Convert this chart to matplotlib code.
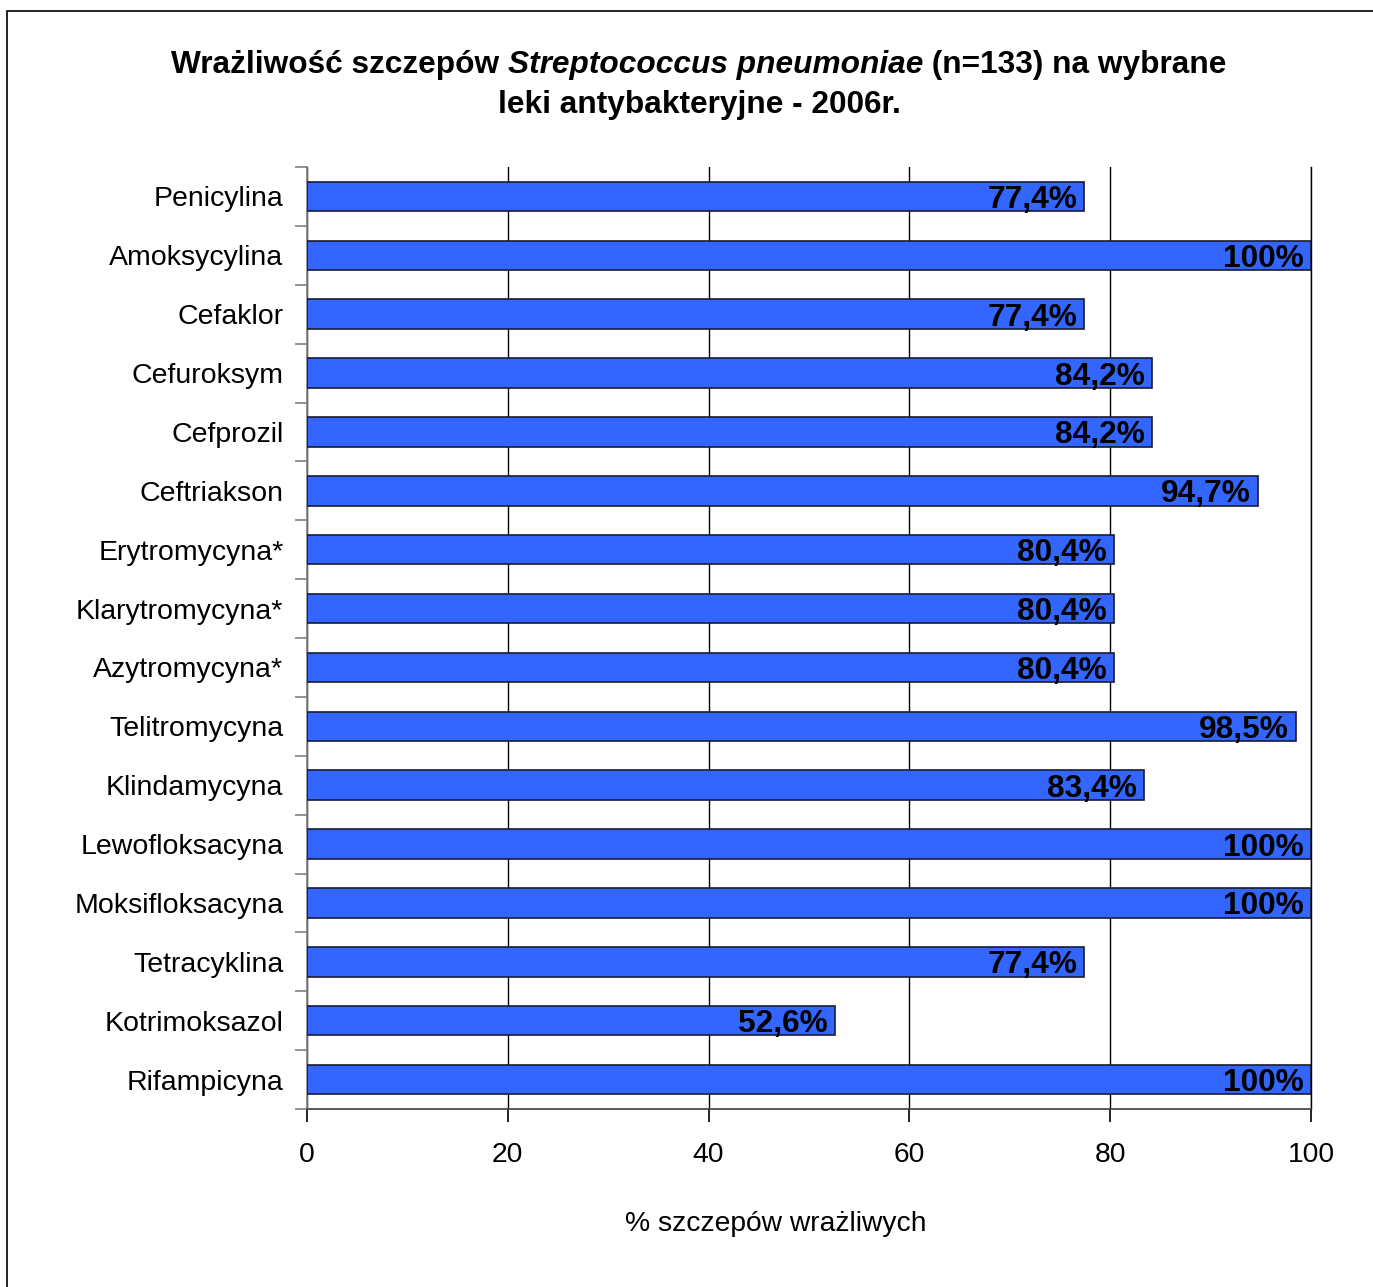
import matplotlib
matplotlib.use("Agg")
import matplotlib.pyplot as plt
from matplotlib.patches import Rectangle

plt.rcParams['font.family'] = ['Liberation Sans', 'DejaVu Sans']

categories = ["Penicylina", "Amoksycylina", "Cefaklor", "Cefuroksym", "Cefprozil",
              "Ceftriakson", "Erytromycyna*", "Klarytromycyna*", "Azytromycyna*",
              "Telitromycyna", "Klindamycyna", "Lewofloksacyna", "Moksifloksacyna",
              "Tetracyklina", "Kotrimoksazol", "Rifampicyna"]
values = [77.4, 100, 77.4, 84.2, 84.2, 94.7, 80.4, 80.4, 80.4, 98.5, 83.4, 100, 100,
          77.4, 52.6, 100]
xticks = [0, 20, 40, 60, 80, 100]

W, H = 1373, 1287
fig = plt.figure(figsize=(W / 100, H / 100), dpi=100)
fig.patches.append(Rectangle((7 / W, -0.01), 1.5, (H - 11) / H + 0.01,
                             transform=fig.transFigure, fill=False,
                             edgecolor='black', linewidth=1.2))

left, right, top, bottom = 307, 1311, 167, 1109
ax = fig.add_axes([left / W, 1 - bottom / H, (right - left) / W, (bottom - top) / H])

n = len(categories)
ypos = list(range(n))
ax.barh(ypos, values, height=0.5, color='#3366FF', edgecolor='#1a1a33', linewidth=1.2, zorder=3)
ax.set_ylim(n - 0.5, -0.5)
ax.set_xlim(0, 100)

for y, v in zip(ypos, values):
    txt = f"{v:.0f}%" if v == 100 else f"{v:.1f}%".replace('.', ',')
    ax.text(v - 0.7, y + 0.06, txt, ha='right', va='center', fontsize=22.8,
            fontweight='bold', color='black', zorder=4)

ax.set_xticks(xticks)
ax.set_xticklabels([str(t) for t in xticks], fontsize=20.3)
ax.set_yticks(ypos)
ax.set_yticklabels(categories, fontsize=20.5)
ax.set_yticks([i - 0.5 for i in range(n + 1)], minor=True)
ax.tick_params(axis='y', which='major', length=0, pad=17)
ax.tick_params(axis='y', which='minor', length=9, color='#808080', width=1.2)
ax.tick_params(axis='x', length=9, width=1.2, pad=15, color='black')

ax.xaxis.grid(True, color='black', linewidth=1.0, zorder=0)
ax.set_axisbelow(True)
ax.spines['top'].set_visible(False)
ax.spines['right'].set_color('black')
ax.spines['right'].set_linewidth(1.0)
ax.spines['left'].set_color('#808080')
ax.spines['left'].set_linewidth(1.2)
ax.spines['bottom'].set_color('#404040')
ax.spines['bottom'].set_linewidth(1.2)

fig.text(776 / W, 1 - 1224 / H, "% szczepów wrażliwych", ha='center', va='center',
         fontsize=20.3)

title_parts = [("Wrażliwość szczepów ", 'normal'), ("Streptococcus pneumoniae", 'italic'),
               (" (n=133) na wybrane", 'normal')]
fig.canvas.draw()
renderer = fig.canvas.get_renderer()
widths = []
texts = []
for s, style in title_parts:
    t = fig.text(0, 1 - 65 / H, s, ha='left', va='center', fontsize=22.8,
                 fontweight='bold', fontstyle=style)
    texts.append(t)
    widths.append(t.get_window_extent(renderer).width)
x0 = (699 - sum(widths) / 2) / W
for t, w in zip(texts, widths):
    t.set_x(x0)
    x0 += w / W
fig.text(699 / W, 1 - 105 / H, "leki antybakteryjne - 2006r.", ha='center', va='center',
         fontsize=22.8, fontweight='bold')

fig.savefig("out.png", dpi=100)
